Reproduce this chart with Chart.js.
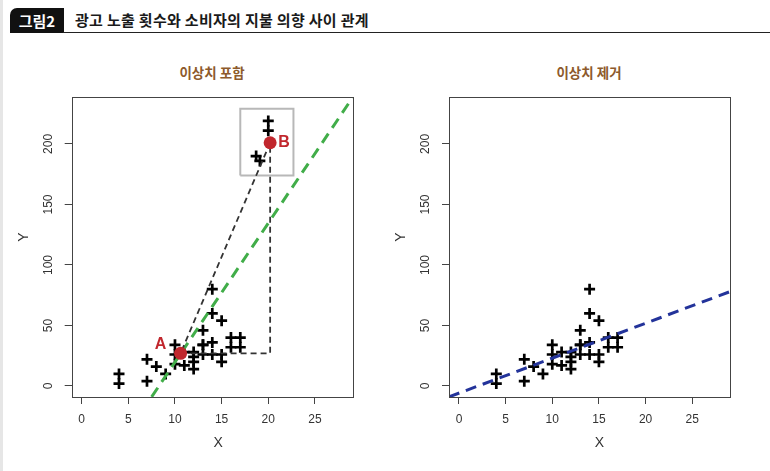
<!DOCTYPE html>
<html>
<head>
<meta charset="utf-8">
<script src="https://cdn.jsdelivr.net/npm/chart.js@4/dist/chart.umd.min.js"></script>
<style>
  body { margin: 0; background: #fff; width: 770px; height: 471px; position: relative; overflow: hidden;
         font-family: "Noto Sans CJK KR", "Noto Sans", sans-serif; }
  .strip { position: absolute; left: 0; top: 0; width: 3px; height: 471px; background: #e6e6e6; }
  .badge { position: absolute; left: 10px; top: 8px; width: 54px; height: 25px; background: #111;
           border-radius: 7px 0 0 0; color: #fff; font-weight: 700; font-size: 15px; line-height: 25px; text-align: center; }
  .head { position: absolute; left: 75px; top: 8px; font-size: 15px; letter-spacing: 0.3px; font-weight: 700; color: #1a1a1a; line-height: 24px; }
  .rule { position: absolute; left: 63px; right: 0; top: 32px; height: 1px; background: #222; }
  .ptitle { position: absolute; top: 62px; width: 200px; text-align: center; font-size: 13.5px; font-weight: 700; color: #8d5a2c; }
  canvas { position: absolute; top: 0; }
</style>
</head>
<body>
<div class="strip"></div>
<div class="badge">그림2</div>
<div class="head">광고 노출 횟수와 소비자의 지불 의향 사이 관계</div>
<div class="rule"></div>
<div class="ptitle" style="left:112px">이상치 포함</div>
<div class="ptitle" style="left:489px">이상치 제거</div>
<canvas id="leftChart" width="385" height="471" style="left:0"></canvas>
<canvas id="rightChart" width="385" height="471" style="left:385px"></canvas>

<script>
// observations (X, Y)
const xValues = [4, 4, 7, 7, 8, 9, 10, 10, 10, 11, 11, 12, 12, 12, 12, 13, 13, 13, 13, 14, 14, 14, 14, 15, 15, 15, 16, 16, 17, 17];
const yValues = [2, 10, 4, 22, 16, 10, 18, 26, 34, 17, 28, 14, 20, 24, 28, 26, 34, 34, 46, 26, 36, 60, 80, 20, 26, 54, 32, 40, 32, 40];

// outliers (left panel only)
const outlierX = [18.7, 19.1, 20, 20, 20.2];
const outlierY = [190, 186, 211, 219, 201];

// marked points A and B
const markLabels = ['A', 'B'];
const markX = [10.6, 20.2];
const markY = [27, 201];

// guide triangle A -> corner -> B -> A and the box around B
const guideX = [10.6, 20.2, 20.2, 10.6];
const guideY = [27, 27, 201, 27];
const boxX = [17, 22.7, 22.7, 17, 17];
const boxY = [174, 174, 229, 229, 174];

// fitted lines (end points)
const fitAllX = [7.5, 29.05];
const fitAllY = [-9, 238.5];
const fitCleanX = [-1.07, 29.05];
const fitCleanY = [-9, 78];

// axes
const xMin = -1.07, xMax = 29.05;
const yMin = -9.1, yMax = 238.8;
const xTicks = [0, 5, 10, 15, 20, 25];
const yTicks = [0, 50, 100, 150, 200];

function pts(xs, ys) {
    return xs.map((x, i) => ({ x: x, y: ys[i] }));
}

const frame = {
    id: 'frame',
    afterDraw(chart, args, opts) {
        const ctx = chart.ctx;
        const a = chart.chartArea;
        const sx = chart.scales.x, sy = chart.scales.y;
        ctx.save();
        ctx.strokeStyle = '#444';
        ctx.lineWidth = 1;
        ctx.strokeRect(Math.round(a.left) + 0.5, Math.round(a.top) + 0.5, Math.round(a.width), Math.round(a.height));

        // rotated y tick labels
        ctx.fillStyle = '#333';
        ctx.font = '12px "Liberation Sans", Arial, sans-serif';
        ctx.textAlign = 'center';
        ctx.textBaseline = 'middle';
        sy.ticks.forEach(t => {
            ctx.save();
            ctx.translate(a.left - 23, sy.getPixelForValue(t.value));
            ctx.rotate(-Math.PI / 2);
            ctx.fillText(String(t.value), 0, 0);
            ctx.restore();
        });

        // axis titles
        ctx.font = '14px "Liberation Sans", Arial, sans-serif';
        ctx.fillText('X', (a.left + a.right) / 2 + opts.xTitleShift, a.bottom + 46);
        ctx.save();
        ctx.translate(a.left - 48, 237);
        ctx.rotate(-Math.PI / 2);
        ctx.fillText('Y', 0, 0);
        ctx.restore();

        // A / B labels
        if (opts.marks) {
            ctx.fillStyle = '#c1272d';
            ctx.font = 'bold 16px "Liberation Sans", Arial, sans-serif';
            const shifts = [[-20, -9], [14, 0]];
            markLabels.forEach((m, i) => {
                ctx.fillText(m, sx.getPixelForValue(markX[i]) + shifts[i][0], sy.getPixelForValue(markY[i]) + shifts[i][1]);
            });
        }
        ctx.restore();
    }
};

function crossSet(data) {
    return {
        data: data,
        pointStyle: 'cross',
        pointRadius: 5.5,
        pointBorderWidth: 2.7,
        borderColor: '#000',
        pointBorderColor: '#000',
        showLine: false
    };
}

function lineSet(data, color, width, dash) {
    return {
        data: data,
        showLine: true,
        borderColor: color,
        borderWidth: width,
        borderDash: dash,
        pointRadius: 0,
        fill: false,
        tension: 0
    };
}

function makeChart(id, datasets, padLeft, padRight, opts) {
    return new Chart(document.getElementById(id), {
        type: 'scatter',
        data: { datasets: datasets },
        options: {
            responsive: false,
            animation: false,
            layout: { padding: { left: padLeft, right: padRight, top: 97, bottom: 34 } },
            plugins: { legend: { display: false }, tooltip: { enabled: false }, frame: opts },
            scales: {
                x: {
                    type: 'linear', min: xMin, max: xMax,
                    afterBuildTicks: s => { s.ticks = xTicks.map(v => ({ value: v })); },
                    afterFit: s => { s.height = 40; },
                    grid: { drawOnChartArea: false, drawTicks: true, tickLength: 7, color: '#444' },
                    border: { display: false },
                    ticks: { color: '#333', font: { family: '"Liberation Sans", Arial', size: 12 }, padding: 8, maxRotation: 0, autoSkip: false }
                },
                y: {
                    type: 'linear', min: yMin, max: yMax,
                    afterBuildTicks: s => { s.ticks = yTicks.map(v => ({ value: v })); },
                    afterFit: s => { s.width = 30; },
                    grid: { drawOnChartArea: false, drawTicks: true, tickLength: 7, color: '#444' },
                    border: { display: false },
                    ticks: { display: false }
                }
            }
        },
        plugins: [frame]
    });
}

// left: with outliers
makeChart('leftChart', [
    {
        data: pts(markX, markY),
        pointStyle: 'circle', pointRadius: 6.5, pointBorderWidth: 0,
        backgroundColor: '#c1272d', borderColor: '#c1272d', showLine: false
    },
    lineSet(pts(guideX, guideY), '#333', 1.8, [6, 4]),
    lineSet(pts(fitAllX, fitAllY), '#41ad49', 3, [11, 7]),
    lineSet(pts(boxX, boxY), '#b8b8b8', 2, []),
    crossSet(pts(outlierX, outlierY)),
    crossSet(pts(xValues, yValues))
], 41.7, 32.3, { xTitleShift: 6, marks: true });

// right: outliers removed
makeChart('rightChart', [
    lineSet(pts(fitCleanX, fitCleanY), '#23339a', 3, [11, 7]),
    crossSet(pts(xValues, yValues))
], 34, 40, { xTitleShift: 10, marks: false });
</script>
</body>
</html>
